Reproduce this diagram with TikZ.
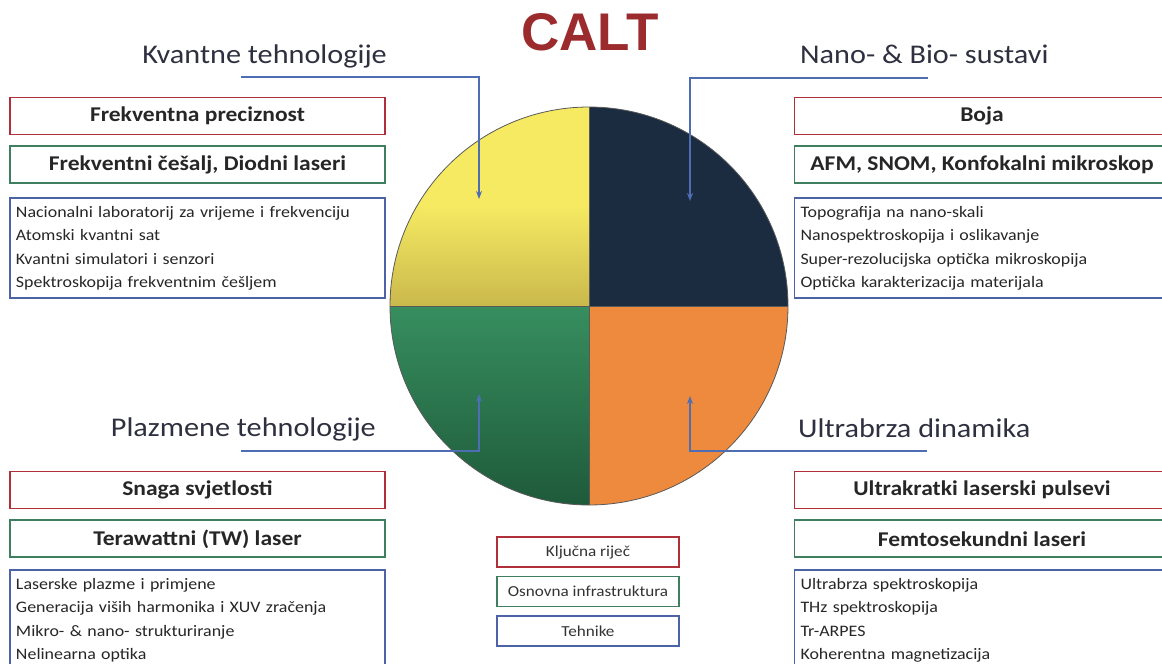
\documentclass[tikz,border=0pt]{standalone}
\usepackage{fontspec}
\setmainfont{Carlito}[FakeStretch=1.12]
\newfontfamily\caltfont{Liberation Sans}
\usepackage{tikz}
\usetikzlibrary{positioning,arrows.meta}
\definecolor{keyRed}{HTML}{B0303A}
\definecolor{infraGreen}{HTML}{3F7F60}
\definecolor{techBlue}{HTML}{4C63A8}
\definecolor{linkBlue}{HTML}{4F6DB3}
\definecolor{headGray}{HTML}{2E3040}
\definecolor{caltRed}{HTML}{9C2B2E}
\definecolor{quadYellow}{HTML}{F5EA62}
\definecolor{quadOlive}{HTML}{CAB84C}
\definecolor{quadNavy}{HTML}{1B2C41}
\definecolor{quadGreen}{HTML}{378E5F}
\definecolor{quadDeep}{HTML}{1E5A3A}
\definecolor{quadOrange}{HTML}{EE8A3D}
\tikzstyle{keyBox}=[rectangle, draw=keyRed, line width=1.8pt, minimum width=375pt, minimum height=37pt, text=black!85, font=\fontsize{21}{25}\selectfont\bfseries]
\tikzstyle{infraBox}=[keyBox, draw=infraGreen]
\tikzstyle{techBox}=[rectangle, draw=techBlue, line width=1.8pt, minimum width=375pt, minimum height=100pt, inner xsep=6pt, text width=363pt, align=left, text=black!85, font=\fontsize{16}{23.5}\selectfont]
\tikzstyle{heading}=[text=headGray, font=\fontsize{27}{32}\selectfont, inner sep=0pt]
\tikzstyle{legendBox}=[rectangle, line width=1.5pt, minimum width=182pt, minimum height=30pt, text=black!80, font=\fontsize{15.3}{18}\selectfont]
\tikzstyle{linkArrow}=[-{Stealth[length=8pt,width=6pt]}, draw=linkBlue, line width=2.3pt]
\tikzstyle{quadLine}=[draw=black!65, line width=0.8pt]

\begin{document}
\begin{tikzpicture}[x=1pt, y=-1pt]
    \useasboundingbox (0,0) rectangle (1162,664);

    % wheel
    \begin{scope}
        \clip (589,306) circle (199pt);
        \shade [top color=quadYellow, bottom color=quadOlive, middle color=quadYellow] (389,106) rectangle (589,306);
        \fill [quadNavy] (589,106) rectangle (790,306);
        \shade [top color=quadGreen, bottom color=quadDeep] (389,306) rectangle (589,506);
        \fill [quadOrange] (589,306) rectangle (790,506);
    \end{scope}
    \draw [style={quadLine}] (589,107) -- (589,505);
    \draw [style={quadLine}] (390,306) -- (788,306);
    \draw [style={quadLine}] (589,306) circle (199pt);

    \node [text=caltRed, font=\caltfont\bfseries\fontsize{53}{58}\selectfont] (Calt) at (590,32) {CALT};

    %Headings
    \node [style=heading, anchor=base east] (KvantHead) at (387,63) {Kvantne tehnologije};
    \node [style=heading, anchor=base west] (NanoHead) at (800,63) {Nano- \& Bio- sustavi};
    \node [style=heading, anchor=base east] (PlazHead) at (376,436) {Plazmene tehnologije};
    \node [style=heading, anchor=base west] (UltraHead) at (798,437) {Ultrabrza dinamika};

    % Top left
    \node [style=keyBox] (KvantKey) at (197.5,116) {Frekventna preciznost};
    \node [style=infraBox, below=10pt of KvantKey] (KvantInfra) {Frekventni češalj, Diodni laseri};
    \node [style=techBox, below=13pt of KvantInfra] (KvantTech) {Nacionalni laboratorij za vrijeme i frekvenciju\\Atomski kvantni sat\\Kvantni simulatori i senzori\\Spektroskopija frekventnim češljem};

    % Top right
    \node [style=keyBox] (NanoKey) at (982,116) {Boja};
    \node [style=infraBox, below=10pt of NanoKey] (NanoInfra) {AFM, SNOM, Konfokalni mikroskop};
    \node [style=techBox, below=13pt of NanoInfra] (NanoTech) {Topografija na nano-skali\\Nanospektroskopija i oslikavanje\\Super-rezolucijska optička mikroskopija\\Optička karakterizacija materijala};

    % Bottom left
    \node [style=keyBox] (PlazKey) at (197.5,490) {Snaga svjetlosti};
    \node [style=infraBox, below=10pt of PlazKey] (PlazInfra) {Terawattni (TW) laser};
    \node [style=techBox, below=11pt of PlazInfra] (PlazTech) {Laserske plazme i primjene\\Generacija viših harmonika i XUV zračenja\\Mikro- \& nano- strukturiranje\\Nelinearna optika};

    % Bottom right
    \node [style=keyBox] (UltraKey) at (982,490) {Ultrakratki laserski pulsevi};
    \node [style=infraBox, below=10pt of UltraKey] (UltraInfra) {Femtosekundni laseri};
    \node [style=techBox, below=11pt of UltraInfra] (UltraTech) {Ultrabrza spektroskopija\\THz spektroskopija\\Tr-ARPES\\Koherentna magnetizacija};

    % Legend
    \node [style=legendBox, draw=keyRed] (LegKey) at (588,552) {Ključna riječ};
    \node [style=legendBox, draw=infraGreen, below=8pt of LegKey] (LegInfra) {Osnovna infrastruktura};
    \node [style=legendBox, draw=techBlue, below=8pt of LegInfra] (LegTech) {Tehnike};

    % Links into the wheel
    \coordinate (KvantStart) at (241,77);
    \coordinate (KvantTip) at (479,199);
    \coordinate (NanoStart) at (928,78);
    \coordinate (NanoTip) at (690,201);
    \coordinate (PlazStart) at (241,451);
    \coordinate (PlazTip) at (479,394);
    \coordinate (UltraStart) at (927,451);
    \coordinate (UltraTip) at (690,396);
    \draw [style={linkArrow}] (KvantStart) -| (KvantTip);
    \draw [style={linkArrow}] (NanoStart) -| (NanoTip);
    \draw [style={linkArrow}] (PlazStart) -| (PlazTip);
    \draw [style={linkArrow}] (UltraStart) -| (UltraTip);
\end{tikzpicture}
\end{document}
